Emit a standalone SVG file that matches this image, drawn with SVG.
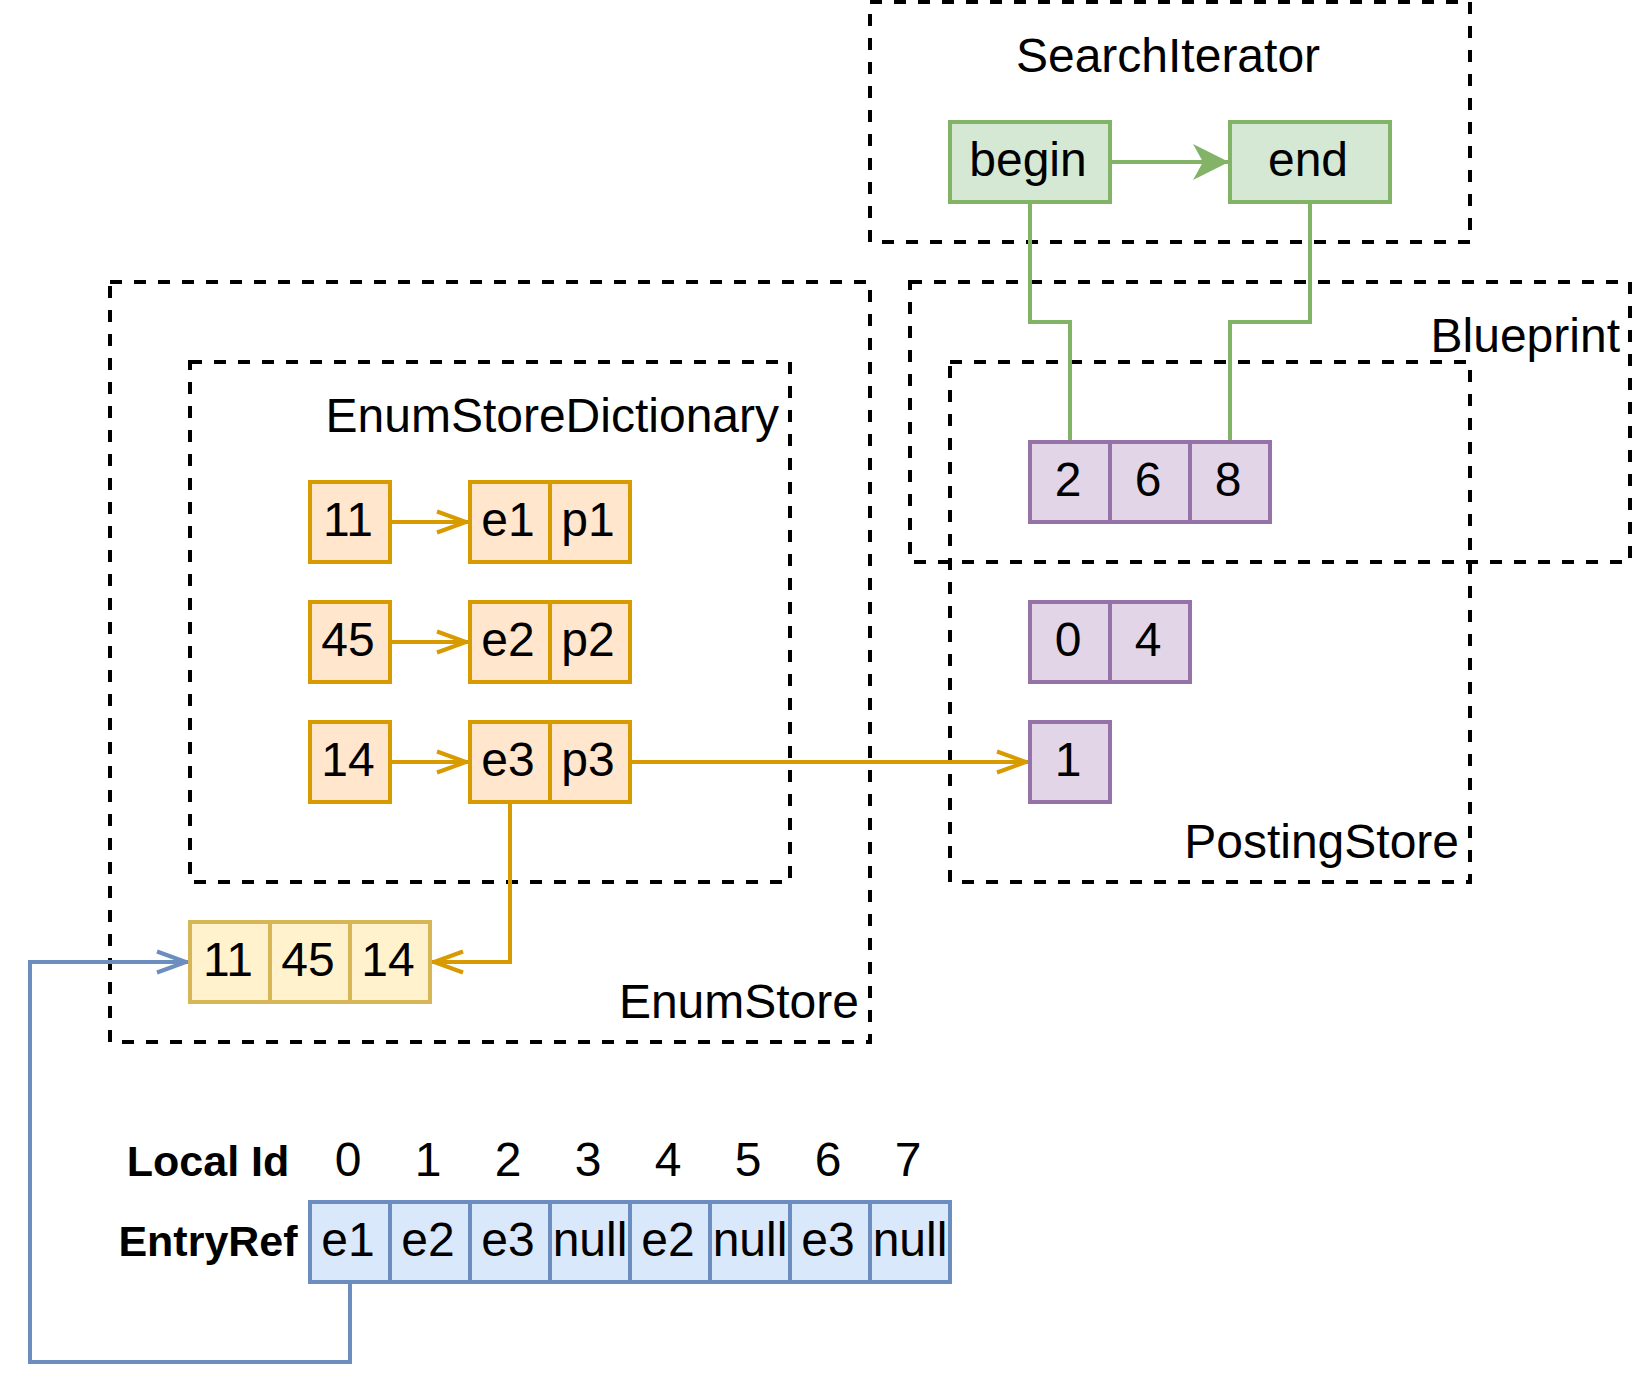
<svg xmlns="http://www.w3.org/2000/svg" width="1636" height="1396" viewBox="0 0 1636 1396">
<defs>
<style>
text { font-family: "Liberation Sans", Arial, Helvetica, sans-serif; font-size: 48px; fill: #000; }
.c { text-anchor: middle; }
.r { text-anchor: end; }
.b { font-weight: bold; font-size: 43px; }
.grp { fill: none; stroke: #000; stroke-width: 4; stroke-dasharray: 12 12; }
.or { fill: #ffe6cc; stroke: #d79b00; stroke-width: 4; }
.ye { fill: #fff2cc; stroke: #d6b656; stroke-width: 4; }
.gr { fill: #d5e8d4; stroke: #82b366; stroke-width: 4; }
.pu { fill: #e1d5e7; stroke: #9673a6; stroke-width: 4; }
.bl { fill: #dae8fc; stroke: #6c8ebf; stroke-width: 4; }
.l-or { fill: none; stroke: #d79b00; stroke-width: 4; marker-end: url(#ao); }
.l-bl { fill: none; stroke: #6c8ebf; stroke-width: 4; marker-end: url(#ab); }
.l-gr { fill: none; stroke: #82b366; stroke-width: 4; }
.l-gra { fill: none; stroke: #82b366; stroke-width: 4; marker-end: url(#ag); }
</style>
<marker id="ao" markerUnits="userSpaceOnUse" markerWidth="40" markerHeight="30" refX="35" refY="12" orient="auto" overflow="visible">
<path d="M2,1.5 L31,12 L2,22.5" fill="none" stroke="#d79b00" stroke-width="4"/>
</marker>
<marker id="ab" markerUnits="userSpaceOnUse" markerWidth="40" markerHeight="30" refX="35" refY="12" orient="auto" overflow="visible">
<path d="M2,1.5 L31,12 L2,22.5" fill="none" stroke="#6c8ebf" stroke-width="4"/>
</marker>
<marker id="ag" markerUnits="userSpaceOnUse" markerWidth="40" markerHeight="40" refX="37" refY="18" orient="auto" overflow="visible">
<path d="M0,0 L36,18 L0,36 L10,18 Z" fill="#82b366"/>
</marker>
</defs>
<rect x="0" y="0" width="1636" height="1396" fill="#fff"/>

<g id="containers">
<g id="SearchIterator">
<rect class="grp" x="870" y="2" width="600" height="240"/>
<text class="c" x="1168" y="72">SearchIterator</text>
</g>
<g id="Blueprint">
<rect class="grp" x="910" y="282" width="720" height="280"/>
<text class="r" x="1620" y="352">Blueprint</text>
</g>
<g id="PostingStore">
<rect class="grp" x="950" y="362" width="520" height="520"/>
<text class="r" x="1459" y="858">PostingStore</text>
</g>
<g id="EnumStore">
<rect class="grp" x="110" y="282" width="760" height="760"/>
<text class="r" x="859" y="1018">EnumStore</text>
</g>
<g id="EnumStoreDictionary">
<rect class="grp" x="190" y="362" width="600" height="520"/>
<text class="r" x="779" y="432">EnumStoreDictionary</text>
</g>
</g>

<g id="connectors">
<path class="l-or" d="M390,522 H470"/>
<path class="l-or" d="M390,642 H470"/>
<path class="l-or" d="M390,762 H470"/>
<path class="l-or" d="M630,762 H1030"/>
<path class="l-or" d="M510,802 V962 H430"/>
<path class="l-bl" d="M350,1282 V1362 H30 V962 H190"/>
<path class="l-gra" d="M1110,162 H1230"/>
<path class="l-gr" d="M1030,202 V322 H1070 V442"/>
<path class="l-gr" d="M1310,202 V322 H1230 V442"/>
</g>

<g id="search-nodes">
<g id="begin"><rect class="gr" x="950" y="122" width="160" height="80"/><text class="c" x="1028" y="176">begin</text></g>
<g id="end"><rect class="gr" x="1230" y="122" width="160" height="80"/><text class="c" x="1308" y="176">end</text></g>
</g>

<g id="dictionary-nodes">
<g id="key-11"><rect class="or" x="310" y="482" width="80" height="80"/><text class="c" x="348" y="536">11</text></g>
<g id="entry-1"><rect class="or" x="470" y="482" width="80" height="80"/><text class="c" x="508" y="536">e1</text><rect class="or" x="550" y="482" width="80" height="80"/><text class="c" x="588" y="536">p1</text></g>
<g id="key-45"><rect class="or" x="310" y="602" width="80" height="80"/><text class="c" x="348" y="656">45</text></g>
<g id="entry-2"><rect class="or" x="470" y="602" width="80" height="80"/><text class="c" x="508" y="656">e2</text><rect class="or" x="550" y="602" width="80" height="80"/><text class="c" x="588" y="656">p2</text></g>
<g id="key-14"><rect class="or" x="310" y="722" width="80" height="80"/><text class="c" x="348" y="776">14</text></g>
<g id="entry-3"><rect class="or" x="470" y="722" width="80" height="80"/><text class="c" x="508" y="776">e3</text><rect class="or" x="550" y="722" width="80" height="80"/><text class="c" x="588" y="776">p3</text></g>
</g>

<g id="enum-values">
<rect class="ye" x="190" y="922" width="80" height="80"/><text class="c" x="228" y="976">11</text>
<rect class="ye" x="270" y="922" width="80" height="80"/><text class="c" x="308" y="976">45</text>
<rect class="ye" x="350" y="922" width="80" height="80"/><text class="c" x="388" y="976">14</text>
</g>

<g id="posting-lists">
<g id="posting-268">
<rect class="pu" x="1030" y="442" width="80" height="80"/><text class="c" x="1068" y="496">2</text>
<rect class="pu" x="1110" y="442" width="80" height="80"/><text class="c" x="1148" y="496">6</text>
<rect class="pu" x="1190" y="442" width="80" height="80"/><text class="c" x="1228" y="496">8</text>
</g>
<g id="posting-04">
<rect class="pu" x="1030" y="602" width="80" height="80"/><text class="c" x="1068" y="656">0</text>
<rect class="pu" x="1110" y="602" width="80" height="80"/><text class="c" x="1148" y="656">4</text>
</g>
<g id="posting-1">
<rect class="pu" x="1030" y="722" width="80" height="80"/><text class="c" x="1068" y="776">1</text>
</g>
</g>

<g id="entryref-table">
<text class="c b" x="208" y="1176">Local Id</text>
<text class="c b" x="208" y="1256">EntryRef</text>
<text class="c" x="348" y="1176">0</text>
<text class="c" x="428" y="1176">1</text>
<text class="c" x="508" y="1176">2</text>
<text class="c" x="588" y="1176">3</text>
<text class="c" x="668" y="1176">4</text>
<text class="c" x="748" y="1176">5</text>
<text class="c" x="828" y="1176">6</text>
<text class="c" x="908" y="1176">7</text>
<rect class="bl" x="310" y="1202" width="80" height="80"/><text class="c" x="348" y="1256">e1</text>
<rect class="bl" x="390" y="1202" width="80" height="80"/><text class="c" x="428" y="1256">e2</text>
<rect class="bl" x="470" y="1202" width="80" height="80"/><text class="c" x="508" y="1256">e3</text>
<rect class="bl" x="550" y="1202" width="80" height="80"/><text class="c" x="590" y="1256">null</text>
<rect class="bl" x="630" y="1202" width="80" height="80"/><text class="c" x="668" y="1256">e2</text>
<rect class="bl" x="710" y="1202" width="80" height="80"/><text class="c" x="750" y="1256">null</text>
<rect class="bl" x="790" y="1202" width="80" height="80"/><text class="c" x="828" y="1256">e3</text>
<rect class="bl" x="870" y="1202" width="80" height="80"/><text class="c" x="910" y="1256">null</text>
</g>
</svg>
